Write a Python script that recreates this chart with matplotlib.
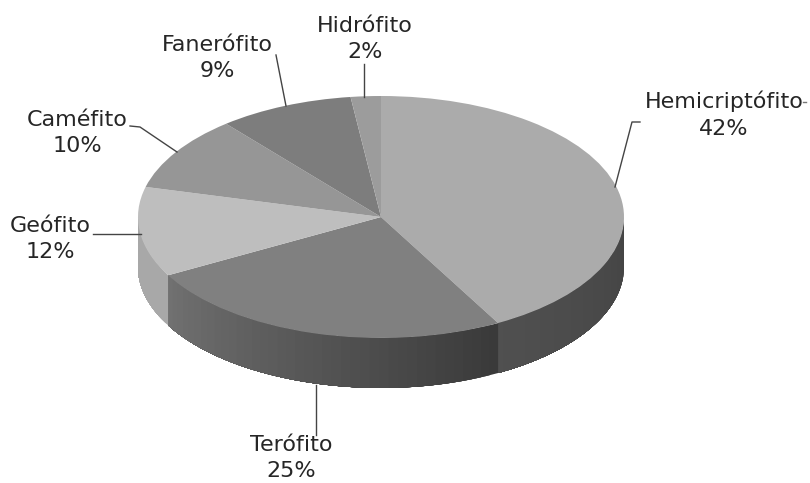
import numpy as np
import matplotlib
matplotlib.use("Agg")
import matplotlib.pyplot as plt

# Data
labels = ["Hemicriptófito", "Terófito", "Geófito", "Caméfito", "Fanerófito", "Hidrófito"]
values = [42, 25, 12, 10, 9, 2]

top_colors = ["#ababab", "#808080", "#bebebe", "#969696", "#7d7d7d", "#9c9c9c"]
# side wall shade at start and end of each slice (grey level)
side_shades = [(0x44, 0x50), (0x3a, 0x72), (0xa8, 0xa8), (0xa8, 0xa8), (0xa8, 0xa8), (0xa8, 0xa8)]

# label centres and leader lines, in image pixels
label_pos = [(724, 115), (291, 458), (50, 239), (77, 133), (217, 58), (365, 39)]
leaders = [
    [(640, 122), (632, 122), (615, 187)],
    [(316, 385), (316, 435)],
    [(93, 234), (141, 234)],
    [(130, 126), (140, 127), (177, 152)],
    [(276, 55), (286, 106)],
    [(364, 64), (364, 97)],
]

W, H = 810, 483
cx, cy, rx, ry, depth = 381, 217, 243, 121, 50

fig = plt.figure(figsize=(W / 100, H / 100), dpi=100)

# pie axes: unit ellipse stretched to the pixel size of the tilted pie
ax = fig.add_axes([0, 0, 1, 1])
wedges, _ = ax.pie(values, colors=top_colors, startangle=90, counterclock=False, radius=1,
                   center=(0, 0), wedgeprops={"linewidth": 0}, frame=True)
for w in wedges:
    w.set_zorder(5)
ax.set_aspect("auto")
ax.set_xlim(-cx / rx, (W - cx) / rx)
ax.set_ylim((cy - H) / ry, cy / ry)
ax.axis("off")

# side wall, drawn as overlapping strips so the shading can run along the rim
d = depth / ry
edges = 90 - np.cumsum([0] + values) * 3.6
for i in range(len(values)):
    start, end = edges[i], edges[i + 1]
    lo = max(end, -180)
    hi = min(start, 0)
    if lo >= hi:
        continue
    steps = np.linspace(hi, lo, 41)
    for a0, a1 in zip(steps[:-1], steps[1:]):
        t = (hi - a0) / (hi - lo)
        g = side_shades[i][0] + (side_shades[i][1] - side_shades[i][0]) * t
        # strip runs to the end of the slice, the next one paints over it
        th = np.radians(np.linspace(a0, lo, 30))
        xs = np.r_[np.cos(th), np.cos(th[::-1])]
        ys = np.r_[np.sin(th), np.sin(th[::-1]) - d]
        ax.fill(xs, ys, color=(g / 255, g / 255, g / 255), lw=0, zorder=2)

# overlay in image pixels for leaders and labels
ov = fig.add_axes([0, 0, 1, 1])
ov.set_xlim(0, W)
ov.set_ylim(H, 0)
ov.axis("off")
ov.patch.set_alpha(0)

for pts in leaders:
    ov.plot([p[0] for p in pts], [p[1] for p in pts], color="#444444", lw=1.0)
ov.plot([803, 806], [102, 102], color="#777777", lw=1.0)

for name, v, (x, y) in zip(labels, values, label_pos):
    ov.text(x, y, f"{name}\n{v}%", ha="center", va="center", fontsize=16,
            color="#262626", family="DejaVu Sans", linespacing=1.42)

fig.savefig("out.png", dpi=100)
plt.close(fig)
